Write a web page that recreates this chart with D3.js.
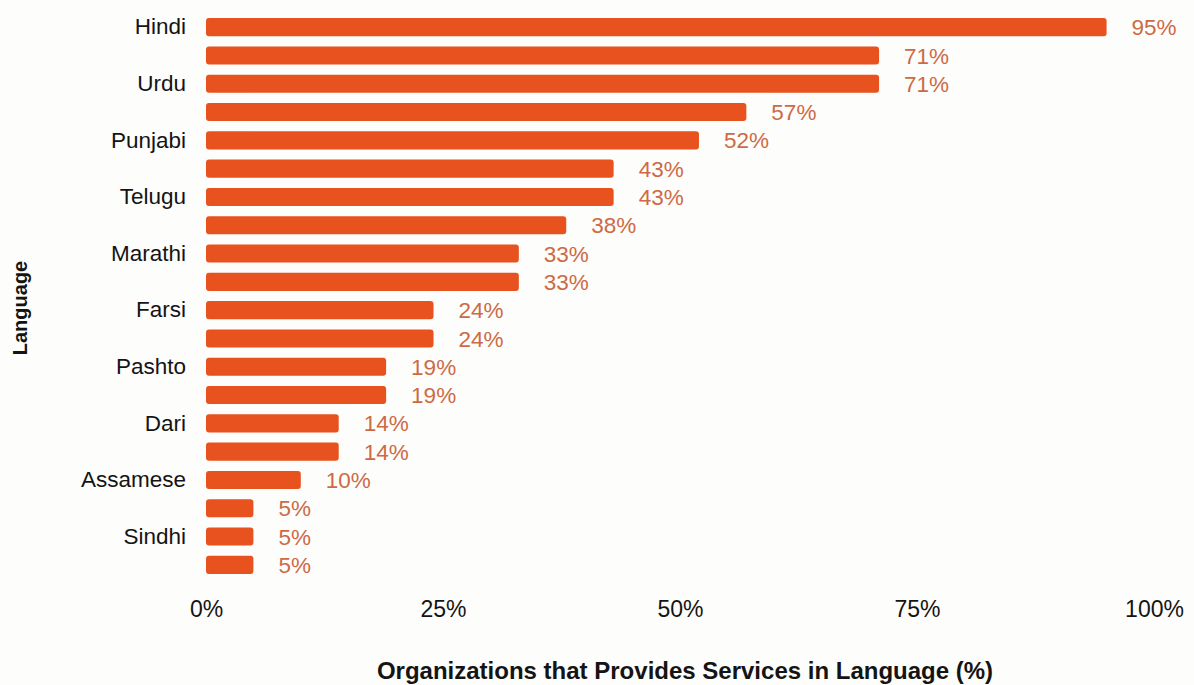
<!DOCTYPE html>
<html>
<head>
<meta charset="utf-8">
<script src="https://cdn.jsdelivr.net/npm/d3@7"></script>
<style>
  html, body { margin: 0; padding: 0; background: #fdfdfb; }
  svg { display: block; }
  text { font-family: "Liberation Sans", Arial, sans-serif; }
</style>
</head>
<body>
<svg id="chart" width="1194" height="685"></svg>
<script>
// Share of organizations offering services in each language (%)
const languages = [
  "Hindi", "Bengali", "Urdu", "Gujarati", "Punjabi", "Tamil", "Telugu", "Malayalam",
  "Marathi", "Kannada", "Farsi", "Arabic", "Pashto", "Nepali", "Dari", "Sinhala",
  "Assamese", "Odia", "Sindhi", "Konkani"
];
const shares = [95, 71, 71, 57, 52, 43, 43, 38, 33, 33, 24, 24, 19, 19, 14, 14, 10, 5, 5, 5];
// Only every other language name is printed on the axis
const shownLabels = ["Hindi", "Urdu", "Punjabi", "Telugu", "Marathi", "Farsi", "Pashto", "Dari", "Assamese", "Sindhi"];
const xTicks = [0, 25, 50, 75, 100];

const data = languages.map((name, i) => ({ name, value: shares[i] }));

const svg = d3.select("#chart");

const x = d3.scaleLinear().domain([0, 100]).range([206, 1154]);
const y = d3.scaleBand()
  .domain(languages)
  .range([13, 579])
  .paddingInner(0.36)
  .paddingOuter(0.18);

const barColor = "#e8521f";
const labelColor = "#cd6a45";
const inkColor = "#141414";

// Bars
svg.append("g")
  .selectAll("rect")
  .data(data)
  .join("rect")
  .attr("x", x(0))
  .attr("y", d => y(d.name))
  .attr("width", d => x(d.value) - x(0))
  .attr("height", y.bandwidth())
  .attr("rx", 3)
  .attr("fill", barColor);

// Value labels at bar ends
svg.append("g")
  .selectAll("text")
  .data(data)
  .join("text")
  .attr("x", d => x(d.value) + 25)
  .attr("y", d => y(d.name) + y.bandwidth() / 2)
  .attr("dy", "0.36em")
  .attr("font-size", 22.5)
  .attr("fill", labelColor)
  .text(d => d.value + "%");

// Category axis
const yAxis = d3.axisLeft(y)
  .tickSize(0)
  .tickPadding(20)
  .tickFormat(d => shownLabels.includes(d) ? d : "");
svg.append("g")
  .attr("transform", `translate(${x(0)},0)`)
  .call(yAxis)
  .call(g => g.select(".domain").remove())
  .call(g => g.selectAll("text")
    .attr("font-size", 22.5)
    .attr("fill", inkColor)
    .style("font-family", "'Liberation Sans', Arial, sans-serif"));

// Value axis
const xAxis = d3.axisBottom(x)
  .tickValues(xTicks)
  .tickSize(0)
  .tickPadding(0)
  .tickFormat(d => d + "%");
svg.append("g")
  .attr("transform", `translate(0,601)`)
  .call(xAxis)
  .call(g => g.select(".domain").remove())
  .call(g => g.selectAll("text")
    .attr("font-size", 23)
    .attr("fill", inkColor)
    .style("font-family", "'Liberation Sans', Arial, sans-serif"));

// Axis titles
svg.append("text")
  .attr("x", 685)
  .attr("y", 679)
  .attr("text-anchor", "middle")
  .attr("font-size", 24)
  .attr("font-weight", "bold")
  .attr("fill", inkColor)
  .text("Organizations that Provides Services in Language (%)");

svg.append("text")
  .attr("transform", "translate(27,308) rotate(-90)")
  .attr("text-anchor", "middle")
  .attr("font-size", 20)
  .attr("font-weight", "bold")
  .attr("fill", inkColor)
  .text("Language");
</script>
</body>
</html>
